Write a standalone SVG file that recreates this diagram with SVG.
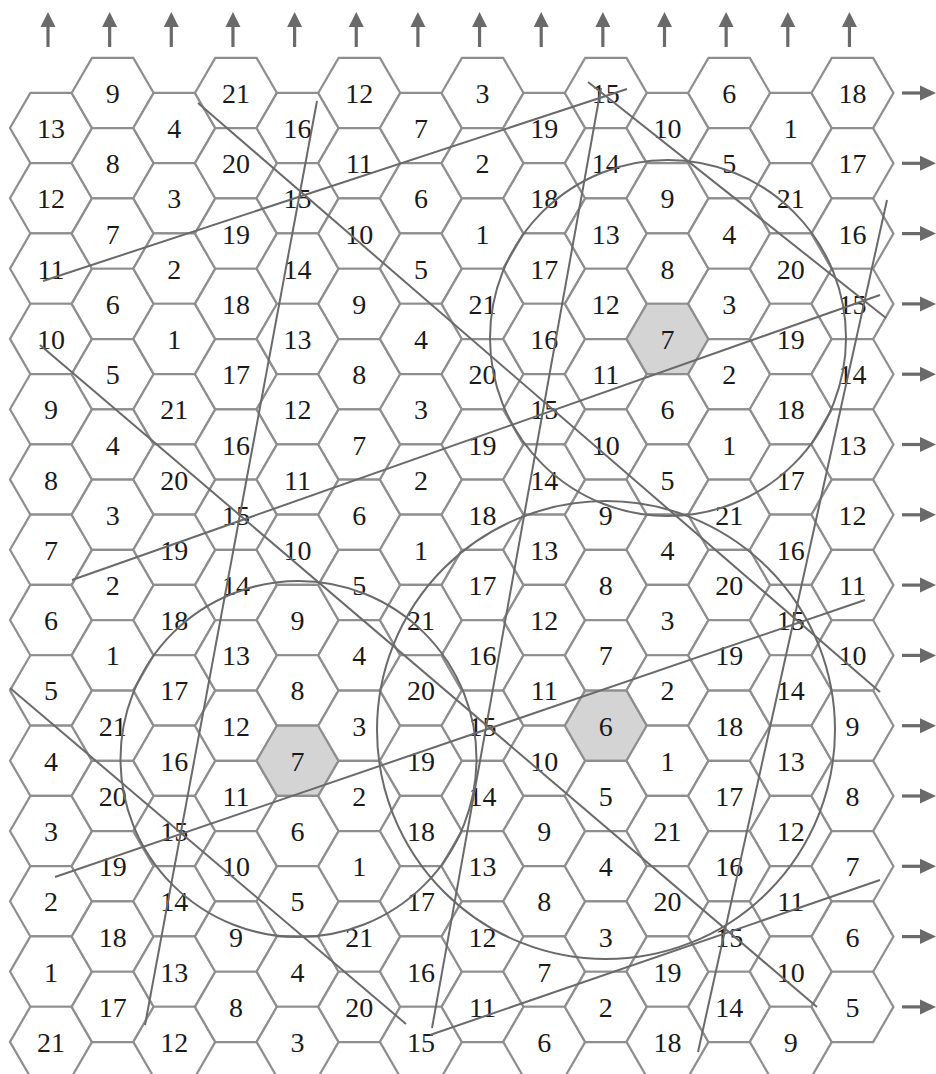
<svg xmlns="http://www.w3.org/2000/svg" xmlns:xlink="http://www.w3.org/1999/xlink" width="936" height="1074" viewBox="0 0 936 1074">
<style>
.h{fill:#fff;stroke:#8e8e8e;stroke-width:2.2}
.hg{fill:#d4d4d4;stroke:#8e8e8e;stroke-width:2.2}
text{font-family:"Liberation Serif","Times New Roman",serif;font-size:28px;fill:#1a1a1a;text-anchor:middle}
.cn line,.cn circle{stroke:#6a6a6a;stroke-width:2;fill:none}
.ar{fill:#6a6a6a;stroke:none}
.sh{stroke:#6a6a6a;stroke-width:3.2}
</style>
<defs>
<polygon id="hx" points="-41,0 -20.65,-35.15 20.65,-35.15 41,0 20.65,35.15 -20.65,35.15"/>
<g id="au"><line class="sh" x1="0" y1="47" x2="0" y2="25"/><polygon class="ar" points="0,12 -7.5,27 7.5,27"/></g>
<g id="ar"><line class="sh" x1="902" y1="0" x2="922" y2="0"/><polygon class="ar" points="936,0 920,-7.5 920,7.5"/></g>
</defs>
<rect width="936" height="1074" fill="#fff"/>
<g id="grid">
<g id="c0r0" transform="translate(51,128)"><use href="#hx" class="h"/><text y="10">13</text></g>
<g id="c0r1" transform="translate(51,198.3)"><use href="#hx" class="h"/><text y="10">12</text></g>
<g id="c0r2" transform="translate(51,268.6)"><use href="#hx" class="h"/><text y="10">11</text></g>
<g id="c0r3" transform="translate(51,338.9)"><use href="#hx" class="h"/><text y="10">10</text></g>
<g id="c0r4" transform="translate(51,409.2)"><use href="#hx" class="h"/><text y="10">9</text></g>
<g id="c0r5" transform="translate(51,479.5)"><use href="#hx" class="h"/><text y="10">8</text></g>
<g id="c0r6" transform="translate(51,549.8)"><use href="#hx" class="h"/><text y="10">7</text></g>
<g id="c0r7" transform="translate(51,620.1)"><use href="#hx" class="h"/><text y="10">6</text></g>
<g id="c0r8" transform="translate(51,690.4)"><use href="#hx" class="h"/><text y="10">5</text></g>
<g id="c0r9" transform="translate(51,760.7)"><use href="#hx" class="h"/><text y="10">4</text></g>
<g id="c0r10" transform="translate(51,831)"><use href="#hx" class="h"/><text y="10">3</text></g>
<g id="c0r11" transform="translate(51,901.3)"><use href="#hx" class="h"/><text y="10">2</text></g>
<g id="c0r12" transform="translate(51,971.6)"><use href="#hx" class="h"/><text y="10">1</text></g>
<g id="c0r13" transform="translate(51,1041.9)"><use href="#hx" class="h"/><text y="10">21</text></g>
<g id="c1r0" transform="translate(112.65,93)"><use href="#hx" class="h"/><text y="10">9</text></g>
<g id="c1r1" transform="translate(112.65,163.3)"><use href="#hx" class="h"/><text y="10">8</text></g>
<g id="c1r2" transform="translate(112.65,233.6)"><use href="#hx" class="h"/><text y="10">7</text></g>
<g id="c1r3" transform="translate(112.65,303.9)"><use href="#hx" class="h"/><text y="10">6</text></g>
<g id="c1r4" transform="translate(112.65,374.2)"><use href="#hx" class="h"/><text y="10">5</text></g>
<g id="c1r5" transform="translate(112.65,444.5)"><use href="#hx" class="h"/><text y="10">4</text></g>
<g id="c1r6" transform="translate(112.65,514.8)"><use href="#hx" class="h"/><text y="10">3</text></g>
<g id="c1r7" transform="translate(112.65,585.1)"><use href="#hx" class="h"/><text y="10">2</text></g>
<g id="c1r8" transform="translate(112.65,655.4)"><use href="#hx" class="h"/><text y="10">1</text></g>
<g id="c1r9" transform="translate(112.65,725.7)"><use href="#hx" class="h"/><text y="10">21</text></g>
<g id="c1r10" transform="translate(112.65,796)"><use href="#hx" class="h"/><text y="10">20</text></g>
<g id="c1r11" transform="translate(112.65,866.3)"><use href="#hx" class="h"/><text y="10">19</text></g>
<g id="c1r12" transform="translate(112.65,936.6)"><use href="#hx" class="h"/><text y="10">18</text></g>
<g id="c1r13" transform="translate(112.65,1006.9)"><use href="#hx" class="h"/><text y="10">17</text></g>
<g id="c2r0" transform="translate(174.3,128)"><use href="#hx" class="h"/><text y="10">4</text></g>
<g id="c2r1" transform="translate(174.3,198.3)"><use href="#hx" class="h"/><text y="10">3</text></g>
<g id="c2r2" transform="translate(174.3,268.6)"><use href="#hx" class="h"/><text y="10">2</text></g>
<g id="c2r3" transform="translate(174.3,338.9)"><use href="#hx" class="h"/><text y="10">1</text></g>
<g id="c2r4" transform="translate(174.3,409.2)"><use href="#hx" class="h"/><text y="10">21</text></g>
<g id="c2r5" transform="translate(174.3,479.5)"><use href="#hx" class="h"/><text y="10">20</text></g>
<g id="c2r6" transform="translate(174.3,549.8)"><use href="#hx" class="h"/><text y="10">19</text></g>
<g id="c2r7" transform="translate(174.3,620.1)"><use href="#hx" class="h"/><text y="10">18</text></g>
<g id="c2r8" transform="translate(174.3,690.4)"><use href="#hx" class="h"/><text y="10">17</text></g>
<g id="c2r9" transform="translate(174.3,760.7)"><use href="#hx" class="h"/><text y="10">16</text></g>
<g id="c2r10" transform="translate(174.3,831)"><use href="#hx" class="h"/><text y="10">15</text></g>
<g id="c2r11" transform="translate(174.3,901.3)"><use href="#hx" class="h"/><text y="10">14</text></g>
<g id="c2r12" transform="translate(174.3,971.6)"><use href="#hx" class="h"/><text y="10">13</text></g>
<g id="c2r13" transform="translate(174.3,1041.9)"><use href="#hx" class="h"/><text y="10">12</text></g>
<g id="c3r0" transform="translate(235.95,93)"><use href="#hx" class="h"/><text y="10">21</text></g>
<g id="c3r1" transform="translate(235.95,163.3)"><use href="#hx" class="h"/><text y="10">20</text></g>
<g id="c3r2" transform="translate(235.95,233.6)"><use href="#hx" class="h"/><text y="10">19</text></g>
<g id="c3r3" transform="translate(235.95,303.9)"><use href="#hx" class="h"/><text y="10">18</text></g>
<g id="c3r4" transform="translate(235.95,374.2)"><use href="#hx" class="h"/><text y="10">17</text></g>
<g id="c3r5" transform="translate(235.95,444.5)"><use href="#hx" class="h"/><text y="10">16</text></g>
<g id="c3r6" transform="translate(235.95,514.8)"><use href="#hx" class="h"/><text y="10">15</text></g>
<g id="c3r7" transform="translate(235.95,585.1)"><use href="#hx" class="h"/><text y="10">14</text></g>
<g id="c3r8" transform="translate(235.95,655.4)"><use href="#hx" class="h"/><text y="10">13</text></g>
<g id="c3r9" transform="translate(235.95,725.7)"><use href="#hx" class="h"/><text y="10">12</text></g>
<g id="c3r10" transform="translate(235.95,796)"><use href="#hx" class="h"/><text y="10">11</text></g>
<g id="c3r11" transform="translate(235.95,866.3)"><use href="#hx" class="h"/><text y="10">10</text></g>
<g id="c3r12" transform="translate(235.95,936.6)"><use href="#hx" class="h"/><text y="10">9</text></g>
<g id="c3r13" transform="translate(235.95,1006.9)"><use href="#hx" class="h"/><text y="10">8</text></g>
<g id="c4r0" transform="translate(297.6,128)"><use href="#hx" class="h"/><text y="10">16</text></g>
<g id="c4r1" transform="translate(297.6,198.3)"><use href="#hx" class="h"/><text y="10">15</text></g>
<g id="c4r2" transform="translate(297.6,268.6)"><use href="#hx" class="h"/><text y="10">14</text></g>
<g id="c4r3" transform="translate(297.6,338.9)"><use href="#hx" class="h"/><text y="10">13</text></g>
<g id="c4r4" transform="translate(297.6,409.2)"><use href="#hx" class="h"/><text y="10">12</text></g>
<g id="c4r5" transform="translate(297.6,479.5)"><use href="#hx" class="h"/><text y="10">11</text></g>
<g id="c4r6" transform="translate(297.6,549.8)"><use href="#hx" class="h"/><text y="10">10</text></g>
<g id="c4r7" transform="translate(297.6,620.1)"><use href="#hx" class="h"/><text y="10">9</text></g>
<g id="c4r8" transform="translate(297.6,690.4)"><use href="#hx" class="h"/><text y="10">8</text></g>
<g id="c4r9" transform="translate(297.6,760.7)"><use href="#hx" class="hg"/><text y="10">7</text></g>
<g id="c4r10" transform="translate(297.6,831)"><use href="#hx" class="h"/><text y="10">6</text></g>
<g id="c4r11" transform="translate(297.6,901.3)"><use href="#hx" class="h"/><text y="10">5</text></g>
<g id="c4r12" transform="translate(297.6,971.6)"><use href="#hx" class="h"/><text y="10">4</text></g>
<g id="c4r13" transform="translate(297.6,1041.9)"><use href="#hx" class="h"/><text y="10">3</text></g>
<g id="c5r0" transform="translate(359.25,93)"><use href="#hx" class="h"/><text y="10">12</text></g>
<g id="c5r1" transform="translate(359.25,163.3)"><use href="#hx" class="h"/><text y="10">11</text></g>
<g id="c5r2" transform="translate(359.25,233.6)"><use href="#hx" class="h"/><text y="10">10</text></g>
<g id="c5r3" transform="translate(359.25,303.9)"><use href="#hx" class="h"/><text y="10">9</text></g>
<g id="c5r4" transform="translate(359.25,374.2)"><use href="#hx" class="h"/><text y="10">8</text></g>
<g id="c5r5" transform="translate(359.25,444.5)"><use href="#hx" class="h"/><text y="10">7</text></g>
<g id="c5r6" transform="translate(359.25,514.8)"><use href="#hx" class="h"/><text y="10">6</text></g>
<g id="c5r7" transform="translate(359.25,585.1)"><use href="#hx" class="h"/><text y="10">5</text></g>
<g id="c5r8" transform="translate(359.25,655.4)"><use href="#hx" class="h"/><text y="10">4</text></g>
<g id="c5r9" transform="translate(359.25,725.7)"><use href="#hx" class="h"/><text y="10">3</text></g>
<g id="c5r10" transform="translate(359.25,796)"><use href="#hx" class="h"/><text y="10">2</text></g>
<g id="c5r11" transform="translate(359.25,866.3)"><use href="#hx" class="h"/><text y="10">1</text></g>
<g id="c5r12" transform="translate(359.25,936.6)"><use href="#hx" class="h"/><text y="10">21</text></g>
<g id="c5r13" transform="translate(359.25,1006.9)"><use href="#hx" class="h"/><text y="10">20</text></g>
<g id="c6r0" transform="translate(420.9,128)"><use href="#hx" class="h"/><text y="10">7</text></g>
<g id="c6r1" transform="translate(420.9,198.3)"><use href="#hx" class="h"/><text y="10">6</text></g>
<g id="c6r2" transform="translate(420.9,268.6)"><use href="#hx" class="h"/><text y="10">5</text></g>
<g id="c6r3" transform="translate(420.9,338.9)"><use href="#hx" class="h"/><text y="10">4</text></g>
<g id="c6r4" transform="translate(420.9,409.2)"><use href="#hx" class="h"/><text y="10">3</text></g>
<g id="c6r5" transform="translate(420.9,479.5)"><use href="#hx" class="h"/><text y="10">2</text></g>
<g id="c6r6" transform="translate(420.9,549.8)"><use href="#hx" class="h"/><text y="10">1</text></g>
<g id="c6r7" transform="translate(420.9,620.1)"><use href="#hx" class="h"/><text y="10">21</text></g>
<g id="c6r8" transform="translate(420.9,690.4)"><use href="#hx" class="h"/><text y="10">20</text></g>
<g id="c6r9" transform="translate(420.9,760.7)"><use href="#hx" class="h"/><text y="10">19</text></g>
<g id="c6r10" transform="translate(420.9,831)"><use href="#hx" class="h"/><text y="10">18</text></g>
<g id="c6r11" transform="translate(420.9,901.3)"><use href="#hx" class="h"/><text y="10">17</text></g>
<g id="c6r12" transform="translate(420.9,971.6)"><use href="#hx" class="h"/><text y="10">16</text></g>
<g id="c6r13" transform="translate(420.9,1041.9)"><use href="#hx" class="h"/><text y="10">15</text></g>
<g id="c7r0" transform="translate(482.55,93)"><use href="#hx" class="h"/><text y="10">3</text></g>
<g id="c7r1" transform="translate(482.55,163.3)"><use href="#hx" class="h"/><text y="10">2</text></g>
<g id="c7r2" transform="translate(482.55,233.6)"><use href="#hx" class="h"/><text y="10">1</text></g>
<g id="c7r3" transform="translate(482.55,303.9)"><use href="#hx" class="h"/><text y="10">21</text></g>
<g id="c7r4" transform="translate(482.55,374.2)"><use href="#hx" class="h"/><text y="10">20</text></g>
<g id="c7r5" transform="translate(482.55,444.5)"><use href="#hx" class="h"/><text y="10">19</text></g>
<g id="c7r6" transform="translate(482.55,514.8)"><use href="#hx" class="h"/><text y="10">18</text></g>
<g id="c7r7" transform="translate(482.55,585.1)"><use href="#hx" class="h"/><text y="10">17</text></g>
<g id="c7r8" transform="translate(482.55,655.4)"><use href="#hx" class="h"/><text y="10">16</text></g>
<g id="c7r9" transform="translate(482.55,725.7)"><use href="#hx" class="h"/><text y="10">15</text></g>
<g id="c7r10" transform="translate(482.55,796)"><use href="#hx" class="h"/><text y="10">14</text></g>
<g id="c7r11" transform="translate(482.55,866.3)"><use href="#hx" class="h"/><text y="10">13</text></g>
<g id="c7r12" transform="translate(482.55,936.6)"><use href="#hx" class="h"/><text y="10">12</text></g>
<g id="c7r13" transform="translate(482.55,1006.9)"><use href="#hx" class="h"/><text y="10">11</text></g>
<g id="c8r0" transform="translate(544.2,128)"><use href="#hx" class="h"/><text y="10">19</text></g>
<g id="c8r1" transform="translate(544.2,198.3)"><use href="#hx" class="h"/><text y="10">18</text></g>
<g id="c8r2" transform="translate(544.2,268.6)"><use href="#hx" class="h"/><text y="10">17</text></g>
<g id="c8r3" transform="translate(544.2,338.9)"><use href="#hx" class="h"/><text y="10">16</text></g>
<g id="c8r4" transform="translate(544.2,409.2)"><use href="#hx" class="h"/><text y="10">15</text></g>
<g id="c8r5" transform="translate(544.2,479.5)"><use href="#hx" class="h"/><text y="10">14</text></g>
<g id="c8r6" transform="translate(544.2,549.8)"><use href="#hx" class="h"/><text y="10">13</text></g>
<g id="c8r7" transform="translate(544.2,620.1)"><use href="#hx" class="h"/><text y="10">12</text></g>
<g id="c8r8" transform="translate(544.2,690.4)"><use href="#hx" class="h"/><text y="10">11</text></g>
<g id="c8r9" transform="translate(544.2,760.7)"><use href="#hx" class="h"/><text y="10">10</text></g>
<g id="c8r10" transform="translate(544.2,831)"><use href="#hx" class="h"/><text y="10">9</text></g>
<g id="c8r11" transform="translate(544.2,901.3)"><use href="#hx" class="h"/><text y="10">8</text></g>
<g id="c8r12" transform="translate(544.2,971.6)"><use href="#hx" class="h"/><text y="10">7</text></g>
<g id="c8r13" transform="translate(544.2,1041.9)"><use href="#hx" class="h"/><text y="10">6</text></g>
<g id="c9r0" transform="translate(605.85,93)"><use href="#hx" class="h"/><text y="10">15</text></g>
<g id="c9r1" transform="translate(605.85,163.3)"><use href="#hx" class="h"/><text y="10">14</text></g>
<g id="c9r2" transform="translate(605.85,233.6)"><use href="#hx" class="h"/><text y="10">13</text></g>
<g id="c9r3" transform="translate(605.85,303.9)"><use href="#hx" class="h"/><text y="10">12</text></g>
<g id="c9r4" transform="translate(605.85,374.2)"><use href="#hx" class="h"/><text y="10">11</text></g>
<g id="c9r5" transform="translate(605.85,444.5)"><use href="#hx" class="h"/><text y="10">10</text></g>
<g id="c9r6" transform="translate(605.85,514.8)"><use href="#hx" class="h"/><text y="10">9</text></g>
<g id="c9r7" transform="translate(605.85,585.1)"><use href="#hx" class="h"/><text y="10">8</text></g>
<g id="c9r8" transform="translate(605.85,655.4)"><use href="#hx" class="h"/><text y="10">7</text></g>
<g id="c9r9" transform="translate(605.85,725.7)"><use href="#hx" class="hg"/><text y="10">6</text></g>
<g id="c9r10" transform="translate(605.85,796)"><use href="#hx" class="h"/><text y="10">5</text></g>
<g id="c9r11" transform="translate(605.85,866.3)"><use href="#hx" class="h"/><text y="10">4</text></g>
<g id="c9r12" transform="translate(605.85,936.6)"><use href="#hx" class="h"/><text y="10">3</text></g>
<g id="c9r13" transform="translate(605.85,1006.9)"><use href="#hx" class="h"/><text y="10">2</text></g>
<g id="c10r0" transform="translate(667.5,128)"><use href="#hx" class="h"/><text y="10">10</text></g>
<g id="c10r1" transform="translate(667.5,198.3)"><use href="#hx" class="h"/><text y="10">9</text></g>
<g id="c10r2" transform="translate(667.5,268.6)"><use href="#hx" class="h"/><text y="10">8</text></g>
<g id="c10r3" transform="translate(667.5,338.9)"><use href="#hx" class="hg"/><text y="10">7</text></g>
<g id="c10r4" transform="translate(667.5,409.2)"><use href="#hx" class="h"/><text y="10">6</text></g>
<g id="c10r5" transform="translate(667.5,479.5)"><use href="#hx" class="h"/><text y="10">5</text></g>
<g id="c10r6" transform="translate(667.5,549.8)"><use href="#hx" class="h"/><text y="10">4</text></g>
<g id="c10r7" transform="translate(667.5,620.1)"><use href="#hx" class="h"/><text y="10">3</text></g>
<g id="c10r8" transform="translate(667.5,690.4)"><use href="#hx" class="h"/><text y="10">2</text></g>
<g id="c10r9" transform="translate(667.5,760.7)"><use href="#hx" class="h"/><text y="10">1</text></g>
<g id="c10r10" transform="translate(667.5,831)"><use href="#hx" class="h"/><text y="10">21</text></g>
<g id="c10r11" transform="translate(667.5,901.3)"><use href="#hx" class="h"/><text y="10">20</text></g>
<g id="c10r12" transform="translate(667.5,971.6)"><use href="#hx" class="h"/><text y="10">19</text></g>
<g id="c10r13" transform="translate(667.5,1041.9)"><use href="#hx" class="h"/><text y="10">18</text></g>
<g id="c11r0" transform="translate(729.15,93)"><use href="#hx" class="h"/><text y="10">6</text></g>
<g id="c11r1" transform="translate(729.15,163.3)"><use href="#hx" class="h"/><text y="10">5</text></g>
<g id="c11r2" transform="translate(729.15,233.6)"><use href="#hx" class="h"/><text y="10">4</text></g>
<g id="c11r3" transform="translate(729.15,303.9)"><use href="#hx" class="h"/><text y="10">3</text></g>
<g id="c11r4" transform="translate(729.15,374.2)"><use href="#hx" class="h"/><text y="10">2</text></g>
<g id="c11r5" transform="translate(729.15,444.5)"><use href="#hx" class="h"/><text y="10">1</text></g>
<g id="c11r6" transform="translate(729.15,514.8)"><use href="#hx" class="h"/><text y="10">21</text></g>
<g id="c11r7" transform="translate(729.15,585.1)"><use href="#hx" class="h"/><text y="10">20</text></g>
<g id="c11r8" transform="translate(729.15,655.4)"><use href="#hx" class="h"/><text y="10">19</text></g>
<g id="c11r9" transform="translate(729.15,725.7)"><use href="#hx" class="h"/><text y="10">18</text></g>
<g id="c11r10" transform="translate(729.15,796)"><use href="#hx" class="h"/><text y="10">17</text></g>
<g id="c11r11" transform="translate(729.15,866.3)"><use href="#hx" class="h"/><text y="10">16</text></g>
<g id="c11r12" transform="translate(729.15,936.6)"><use href="#hx" class="h"/><text y="10">15</text></g>
<g id="c11r13" transform="translate(729.15,1006.9)"><use href="#hx" class="h"/><text y="10">14</text></g>
<g id="c12r0" transform="translate(790.8,128)"><use href="#hx" class="h"/><text y="10">1</text></g>
<g id="c12r1" transform="translate(790.8,198.3)"><use href="#hx" class="h"/><text y="10">21</text></g>
<g id="c12r2" transform="translate(790.8,268.6)"><use href="#hx" class="h"/><text y="10">20</text></g>
<g id="c12r3" transform="translate(790.8,338.9)"><use href="#hx" class="h"/><text y="10">19</text></g>
<g id="c12r4" transform="translate(790.8,409.2)"><use href="#hx" class="h"/><text y="10">18</text></g>
<g id="c12r5" transform="translate(790.8,479.5)"><use href="#hx" class="h"/><text y="10">17</text></g>
<g id="c12r6" transform="translate(790.8,549.8)"><use href="#hx" class="h"/><text y="10">16</text></g>
<g id="c12r7" transform="translate(790.8,620.1)"><use href="#hx" class="h"/><text y="10">15</text></g>
<g id="c12r8" transform="translate(790.8,690.4)"><use href="#hx" class="h"/><text y="10">14</text></g>
<g id="c12r9" transform="translate(790.8,760.7)"><use href="#hx" class="h"/><text y="10">13</text></g>
<g id="c12r10" transform="translate(790.8,831)"><use href="#hx" class="h"/><text y="10">12</text></g>
<g id="c12r11" transform="translate(790.8,901.3)"><use href="#hx" class="h"/><text y="10">11</text></g>
<g id="c12r12" transform="translate(790.8,971.6)"><use href="#hx" class="h"/><text y="10">10</text></g>
<g id="c12r13" transform="translate(790.8,1041.9)"><use href="#hx" class="h"/><text y="10">9</text></g>
<g id="c13r0" transform="translate(852.45,93)"><use href="#hx" class="h"/><text y="10">18</text></g>
<g id="c13r1" transform="translate(852.45,163.3)"><use href="#hx" class="h"/><text y="10">17</text></g>
<g id="c13r2" transform="translate(852.45,233.6)"><use href="#hx" class="h"/><text y="10">16</text></g>
<g id="c13r3" transform="translate(852.45,303.9)"><use href="#hx" class="h"/><text y="10">15</text></g>
<g id="c13r4" transform="translate(852.45,374.2)"><use href="#hx" class="h"/><text y="10">14</text></g>
<g id="c13r5" transform="translate(852.45,444.5)"><use href="#hx" class="h"/><text y="10">13</text></g>
<g id="c13r6" transform="translate(852.45,514.8)"><use href="#hx" class="h"/><text y="10">12</text></g>
<g id="c13r7" transform="translate(852.45,585.1)"><use href="#hx" class="h"/><text y="10">11</text></g>
<g id="c13r8" transform="translate(852.45,655.4)"><use href="#hx" class="h"/><text y="10">10</text></g>
<g id="c13r9" transform="translate(852.45,725.7)"><use href="#hx" class="h"/><text y="10">9</text></g>
<g id="c13r10" transform="translate(852.45,796)"><use href="#hx" class="h"/><text y="10">8</text></g>
<g id="c13r11" transform="translate(852.45,866.3)"><use href="#hx" class="h"/><text y="10">7</text></g>
<g id="c13r12" transform="translate(852.45,936.6)"><use href="#hx" class="h"/><text y="10">6</text></g>
<g id="c13r13" transform="translate(852.45,1006.9)"><use href="#hx" class="h"/><text y="10">5</text></g>
</g>
<g id="connectors" class="cn">
<line x1="43" y1="281" x2="627" y2="89"/>
<line x1="72" y1="580" x2="880" y2="295"/>
<line x1="55" y1="877" x2="865" y2="600"/>
<line x1="430" y1="1035" x2="880" y2="880"/>
<line x1="588" y1="82" x2="886" y2="318"/>
<line x1="198" y1="103" x2="880" y2="692"/>
<line x1="40" y1="345" x2="817" y2="1007"/>
<line x1="10" y1="688" x2="406" y2="1024"/>
<line x1="145" y1="1025" x2="317" y2="101"/>
<line x1="432" y1="1028" x2="601" y2="88"/>
<line x1="698" y1="1052" x2="887" y2="200"/>
<circle cx="668" cy="338" r="178"/>
<circle cx="606" cy="730" r="229"/>
<circle cx="298.5" cy="759" r="178"/>
</g>
<g id="top-arrows">
<use href="#au" x="48"/><use href="#au" x="109.65"/><use href="#au" x="171.3"/><use href="#au" x="232.95"/><use href="#au" x="294.6"/><use href="#au" x="356.25"/><use href="#au" x="417.9"/><use href="#au" x="479.55"/><use href="#au" x="541.2"/><use href="#au" x="602.85"/><use href="#au" x="664.5"/><use href="#au" x="726.15"/><use href="#au" x="787.8"/><use href="#au" x="849.45"/>
</g>
<g id="right-arrows">
<use href="#ar" y="93"/><use href="#ar" y="163.3"/><use href="#ar" y="233.6"/><use href="#ar" y="303.9"/><use href="#ar" y="374.2"/><use href="#ar" y="444.5"/><use href="#ar" y="514.8"/><use href="#ar" y="585.1"/><use href="#ar" y="655.4"/><use href="#ar" y="725.7"/><use href="#ar" y="796"/><use href="#ar" y="866.3"/><use href="#ar" y="936.6"/><use href="#ar" y="1006.9"/>
</g>
</svg>
